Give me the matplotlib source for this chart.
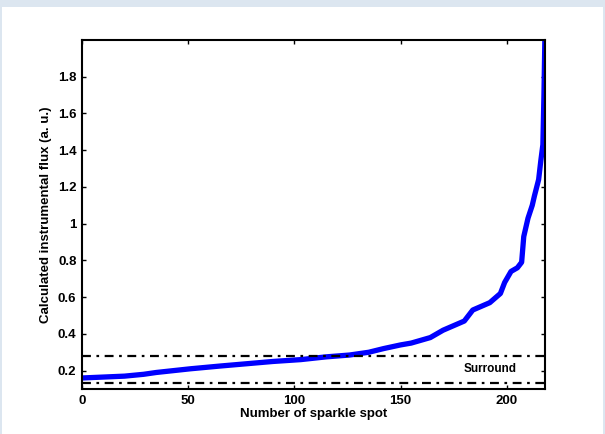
import matplotlib
matplotlib.use("Agg")
import matplotlib.pyplot as plt
from matplotlib.patches import Rectangle

# sorted flux of each sparkle spot
spot_number = [0, 10, 20, 29, 35, 51, 65, 75, 90, 103, 115, 126, 135, 142,
               150, 155, 164, 170, 176, 180, 184, 188, 192, 197, 199, 202,
               205, 207, 208, 210, 212, 213, 215, 216, 217, 217.5, 218]
flux = [0.16, 0.165, 0.17, 0.18, 0.19, 0.21, 0.225, 0.235, 0.25, 0.26, 0.275,
        0.285, 0.30, 0.32, 0.34, 0.35, 0.38, 0.42, 0.45, 0.47, 0.53, 0.55,
        0.57, 0.62, 0.68, 0.74, 0.76, 0.79, 0.93, 1.03, 1.10, 1.15, 1.24,
        1.34, 1.43, 1.70, 2.05]

surround_upper = 0.28
surround_lower = 0.135
surround_label = "Surround"

x_ticks = [0, 50, 100, 150, 200]
y_ticks = [0.2, 0.4, 0.6, 0.8, 1.0, 1.2, 1.4, 1.6, 1.8]
y_tick_labels = ["0.2", "0.4", "0.6", "0.8", "1", "1.2", "1.4", "1.6", "1.8"]

plt.rcParams['font.family'] = ['Liberation Sans', 'DejaVu Sans']
plt.rcParams['font.weight'] = 'bold'

fig = plt.figure(figsize=(6.05, 4.34), dpi=100)
fig.patch.set_facecolor('#dce6f0')
fig.patches.append(Rectangle((2 / 605, 0), 601 / 605, 1 - 7 / 434,
                             transform=fig.transFigure, facecolor='white',
                             edgecolor='none', zorder=-10))

ax = fig.add_axes([82 / 605, 1 - 389 / 434, 463 / 605, 349 / 434])
ax.plot(spot_number, flux, color='#0000ff', linewidth=3.8)

ax.axhline(surround_upper, color='black', linestyle='-.', linewidth=1.6,
           dashes=(4, 2.5, 1.2, 2.5))
ax.axhline(surround_lower, color='black', linestyle='-.', linewidth=1.6,
           dashes=(4, 2.5, 1.2, 2.5))
ax.text(192, 0.207, surround_label, ha='center', va='center', fontsize=8.5,
        fontweight='bold')

ax.set_xlim(0, 218)
ax.set_ylim(0.1, 2.0)
ax.set_xticks(x_ticks)
ax.set_yticks(y_ticks)
ax.set_yticklabels(y_tick_labels)
ax.tick_params(direction='in', length=3, width=1, top=True, right=True,
               labelsize=9.5, pad=4)
for lab in ax.get_xticklabels() + ax.get_yticklabels():
    lab.set_fontweight('bold')
for s in ax.spines.values():
    s.set_linewidth(1.5)

ax.set_xlabel("Number of sparkle spot", fontsize=9.5, fontweight='bold',
              labelpad=1)
ax.set_ylabel("Calculated instrumental flux (a. u.)", fontsize=9.5,
              fontweight='bold', labelpad=4)

fig.savefig("out.png", dpi=100)
